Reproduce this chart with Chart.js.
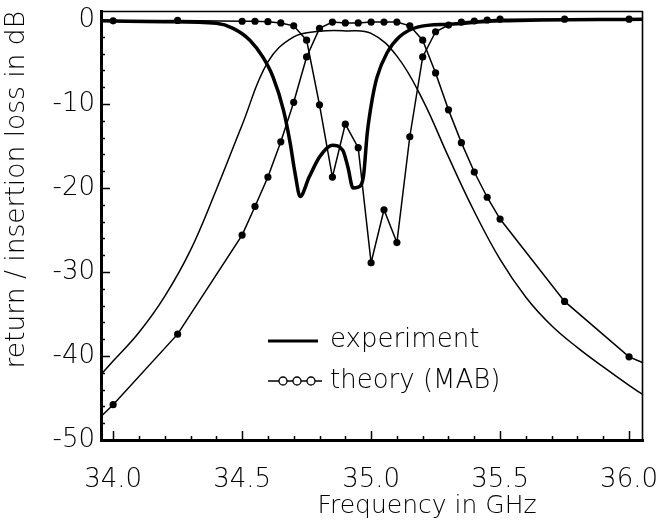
<!DOCTYPE html>
<html><head><meta charset="utf-8">
<script src="https://cdn.jsdelivr.net/npm/chart.js@4"></script>
<style>html,body{margin:0;padding:0;background:#fff}</style>
</head><body>
<canvas id="c" width="668" height="529"></canvas>
<script>
// ---- data ----
const xTickValues = [34.0, 34.5, 35.0, 35.5, 36.0];
const yTickValues = [-50, -40, -30, -20, -10, 0];

// experiment: return loss (thick line)
const expRLFreq = [33.953, 34.2, 34.4, 34.465, 34.53, 34.58, 34.62, 34.66, 34.686, 34.705, 34.725, 34.76, 34.80, 34.85, 34.89, 34.91, 34.93, 34.95, 34.97, 34.985, 35.004, 35.023, 35.062, 35.11, 35.18, 35.306, 35.5, 36.054];
const expRL     = [-0.1, -0.2, -0.4, -1.0, -2.4, -4.4, -6.8, -10.7, -14.6, -18.2, -21.0, -18.7, -16.3, -14.9, -15.5, -17.5, -20.0, -19.9, -18.7, -13.5, -9.5, -6.8, -3.9, -2.0, -0.85, -0.5, -0.1, 0.1];

// experiment: insertion loss (thin line)
const expILFreq = [33.953, 34.0, 34.1, 34.2, 34.3, 34.4, 34.5, 34.6, 34.7, 34.8, 34.9, 35.0, 35.1, 35.2, 35.3, 35.4, 35.5, 35.6, 35.7, 35.8, 35.9, 36.0, 36.054];
const expIL     = [-42.2, -40.6, -37.2, -32.9, -27.4, -20.2, -12.5, -5.0, -2.0, -1.35, -1.3, -1.6, -4.3, -9.5, -16.3, -22.8, -28.5, -33.0, -36.4, -39.0, -41.3, -43.5, -44.6];

// theory (MAB): dots at these frequencies; first/last entries are the line's ends at the frame
const thFreq = [33.953, 34.0, 34.25, 34.5, 34.55, 34.6, 34.65, 34.7, 34.75, 34.8, 34.85, 34.9, 34.95, 35.0, 35.05, 35.1, 35.15, 35.2, 35.25, 35.3, 35.35, 35.4, 35.45, 35.5, 35.75, 36.0, 36.054];
const thRL   = [-0.1, -0.1, -0.05, -0.15, -0.15, -0.2, -0.35, -0.7, -2.4, -10.1, -18.7, -12.4, -15.2, -28.9, -22.6, -26.5, -13.9, -4.4, -1.4, -0.6, -0.25, -0.12, 0, 0.1, 0.1, 0.1, 0.1];
const thIL   = [-47.2, -45.8, -37.4, -25.6, -22.2, -18.7, -14.5, -9.8, -4.4, -1.0, -0.25, -0.35, -0.35, -0.25, -0.25, -0.25, -0.7, -2.4, -6.3, -10.7, -14.6, -18.1, -21.1, -23.7, -33.5, -40.1, -40.8];

const legendLabels = ['experiment', 'theory (MAB)'];
const xTitle = 'Frequency in GHz';
const yTitle = 'return / insertion loss in dB';

// ---- helpers ----
const pts = (xs, ys) => xs.map((x, i) => ({x: x, y: ys[i]}));
const FONT = 'DejaVu Sans';
const FW = '200';
const TXT = '#000';
const dotRadius = ctx => { const v = ctx.raw && ctx.raw.x; return (v >= 33.99 && v <= 36.01) ? 3.6 : 0; };

const framePlugin = {
  id: 'frame',
  afterDatasetsDraw(chart) {
    const {ctx, chartArea: a, scales: {x, y}} = chart;
    ctx.save();
    ctx.strokeStyle = '#000';
    ctx.lineWidth = 1.6;
    ctx.beginPath();
    ctx.moveTo(a.left, a.top + 0.5); ctx.lineTo(a.right, a.top + 0.5);
    ctx.moveTo(a.right - 0.5, a.top); ctx.lineTo(a.right - 0.5, a.bottom);
    ctx.stroke();
    ctx.lineWidth = 1.5;
    ctx.beginPath();
    for (let i = 340; i <= 360; i++) {
      const px = Math.round(x.getPixelForValue(i / 10)) + 0.5;
      const len = (i % 5 === 0) ? 9 : 4;
      ctx.moveTo(px, a.bottom); ctx.lineTo(px, a.bottom - len);
    }
    for (let v = -50; v <= 0; v += 2) {
      const py = Math.round(y.getPixelForValue(v)) + 0.5;
      const len = (v % 10 === 0) ? 9 : 4;
      ctx.moveTo(a.left, py); ctx.lineTo(a.left + len, py);
    }
    ctx.stroke();
    ctx.restore();
  },
  afterDraw(chart) {
    const {ctx, chartArea: a} = chart;
    ctx.save();
    ctx.fillStyle = TXT;
    ctx.font = `${FW} 25px "${FONT}"`;
    ctx.textAlign = 'center';
    ctx.textBaseline = 'middle';
    ctx.fillText(xTitle, (a.left + a.right) / 2 + 55, 506);
    ctx.strokeStyle = '#000';
    ctx.lineWidth = 3;
    ctx.beginPath(); ctx.moveTo(268, 341); ctx.lineTo(318, 341); ctx.stroke();
    ctx.lineWidth = 1.3;
    ctx.beginPath(); ctx.moveTo(268, 381); ctx.lineTo(322, 381); ctx.stroke();
    ctx.fillStyle = '#fff';
    [283, 297, 311].forEach(cx => { ctx.beginPath(); ctx.arc(cx, 381, 4, 0, Math.PI * 2); ctx.fill(); ctx.stroke(); });
    ctx.fillStyle = TXT;
    ctx.textAlign = 'left';
    ctx.font = `${FW} 26px "${FONT}"`;
    ctx.fillText(legendLabels[0], 330, 340);
    ctx.fillText(legendLabels[1], 330, 381);
    ctx.restore();
  }
};

new Chart(document.getElementById('c'), {
  type: 'line',
  data: {
    datasets: [
      {label: 'experiment RL', data: pts(expRLFreq, expRL), borderColor: '#000', borderWidth: 3.5, pointRadius: 0, cubicInterpolationMode: 'monotone'},
      {label: 'experiment IL', data: pts(expILFreq, expIL), borderColor: '#000', borderWidth: 1.5, pointRadius: 0, tension: 0.4},
      {label: 'theory RL', data: pts(thFreq, thRL), borderColor: '#000', borderWidth: 1.5, tension: 0, pointRadius: dotRadius, pointBackgroundColor: '#000', pointBorderColor: '#000', pointBorderWidth: 0},
      {label: 'theory IL', data: pts(thFreq, thIL), borderColor: '#000', borderWidth: 1.5, tension: 0, pointRadius: dotRadius, pointBackgroundColor: '#000', pointBorderColor: '#000', pointBorderWidth: 0}
    ]
  },
  options: {
    responsive: false,
    animation: false,
    devicePixelRatio: 1,
    clip: false,
    layout: {padding: {left: 0, top: 11, right: 25, bottom: 0}},
    plugins: {legend: {display: false}, tooltip: {enabled: false}},
    scales: {
      x: {
        type: 'linear', min: 33.953, max: 36.054,
        afterBuildTicks: s => { s.ticks = xTickValues.map(v => ({value: v})); },
        afterFit: s => { s.height = 89; s.paddingLeft = 0; s.paddingRight = 0; },
        ticks: {callback: v => Number(v).toFixed(1), font: {family: FONT, size: 26, weight: FW}, color: TXT, padding: 25, maxRotation: 0, autoSkip: false},
        grid: {display: false, drawTicks: false},
        border: {display: true, width: 3, color: '#000'},
        title: {display: false}
      },
      y: {
        type: 'linear', min: -50, max: 1.07,
        afterBuildTicks: s => { s.ticks = yTickValues.map(v => ({value: v})); },
        afterFit: s => { s.width = 101; s.paddingTop = 0; s.paddingBottom = 0; },
        ticks: {callback: v => String(v), font: {family: FONT, size: 26, weight: FW}, color: TXT, padding: 6},
        grid: {display: false, drawTicks: false},
        border: {display: true, width: 3, color: '#000'},
        title: {display: true, text: yTitle, align: 'end', color: TXT, font: {family: FONT, size: 26.5, weight: FW}, padding: {top: 1, bottom: 0}}
      }
    }
  },
  plugins: [framePlugin]
});
</script>
</body></html>
